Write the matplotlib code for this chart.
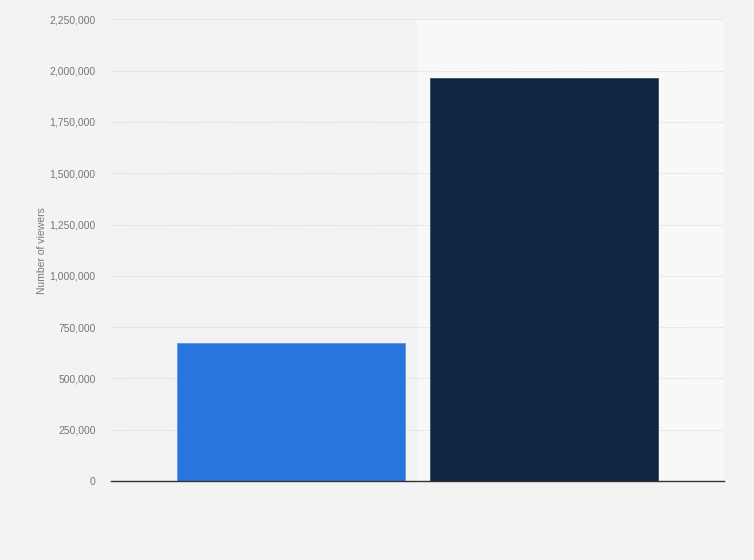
import matplotlib.pyplot as plt
from matplotlib.ticker import FuncFormatter

plt.rcParams['font.family'] = ['Liberation Sans', 'DejaVu Sans']

# Values (no category labels are shown)
categories = ['A', 'B']
viewers = [671000, 1963000]
bar_colors = ['#2876dd', '#0f2640']
y_ticks = [0, 250000, 500000, 750000, 1000000, 1250000, 1500000, 1750000, 2000000, 2250000]

fig = plt.figure(figsize=(7.54, 5.6), dpi=100)
fig.patch.set_facecolor('#f3f3f3')
ax = fig.add_axes([0.1472, 0.141, 0.813, 0.8245])
ax.set_facecolor('#f3f3f3')

x = list(range(len(categories)))
# lighter highlight band behind the second bar
ax.axvspan(0.5, 1.71, ymin=0, ymax=1, color='#f8f8f8', zorder=0, lw=0)
ax.bar(x, viewers, width=0.9, color=bar_colors, edgecolor=['#5a95e6', '#3c4d61'],
       linewidth=0.6, zorder=3)

ax.set_xlim(-0.71, 1.71)
ax.set_ylim(0, 2250000)
ax.set_yticks(y_ticks)
ax.yaxis.set_major_formatter(FuncFormatter(lambda v, p: f'{int(v):,}'))
ax.set_xticks(x)
ax.set_xticklabels(['' for c in categories])
ax.grid(axis='y', color='#d8d8d8', linestyle=(0, (1, 1)), linewidth=0.7, zorder=1)
ax.tick_params(axis='y', length=0, pad=11, labelsize=7.5, labelcolor='#777777')
ax.tick_params(axis='x', length=0)
for side in ['top', 'right', 'left']:
    ax.spines[side].set_visible(False)
ax.spines['bottom'].set_color('#333333')
ax.spines['bottom'].set_linewidth(1.0)
ax.spines['bottom'].set_zorder(4)
ax.set_ylabel('Number of viewers', fontsize=7.5, color='#777777')
ax.yaxis.set_label_coords(-0.104, 0.5)

plt.savefig('out.png', dpi=100, facecolor=fig.get_facecolor())
